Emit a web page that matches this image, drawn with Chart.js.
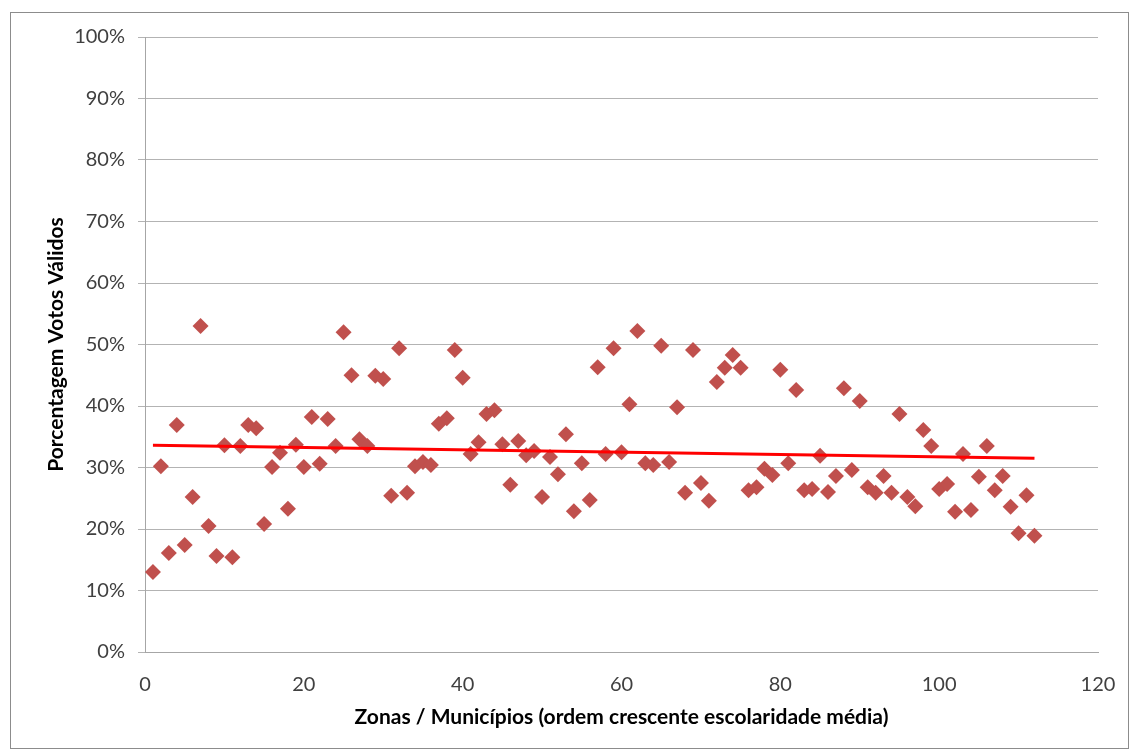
<!DOCTYPE html>
<html>
<head>
<meta charset="utf-8">
<script src="https://cdn.jsdelivr.net/npm/chart.js@4"></script>
<style>
  html, body { margin: 0; padding: 0; background: #fff; }
  #wrap { width: 1130px; height: 749px; position: relative; }
</style>
</head>
<body>
<div id="wrap"><canvas id="c" width="1130" height="749"></canvas></div>
<script>
// Vote share (%) per zone/municipality, ordered by increasing mean schooling
const votePct = [
  13.0, 30.2, 16.1, 36.9, 17.4, 25.2, 53.0, 20.5, 15.6, 33.6,
  15.4, 33.5, 36.9, 36.4, 20.8, 30.1, 32.4, 23.3, 33.7, 30.1,
  38.2, 30.6, 37.9, 33.5, 52.0, 45.0, 34.6, 33.5, 44.9, 44.4,
  25.4, 49.4, 25.9, 30.2, 30.9, 30.4, 37.1, 38.0, 49.1, 44.6,
  32.2, 34.1, 38.7, 39.3, 33.8, 27.2, 34.3, 32.0, 32.7, 25.2,
  31.7, 28.9, 35.4, 22.9, 30.7, 24.7, 46.3, 32.2, 49.4, 32.5,
  40.3, 52.2, 30.7, 30.4, 49.8, 30.9, 39.8, 25.9, 49.1, 27.5,
  24.6, 43.9, 46.2, 48.3, 46.2, 26.3, 26.8, 29.8, 28.8, 45.9,
  30.7, 42.6, 26.3, 26.5, 31.9, 26.0, 28.6, 42.9, 29.6, 40.8,
  26.8, 25.9, 28.6, 25.9, 38.7, 25.2, 23.7, 36.1, 33.5, 26.5,
  27.3, 22.8, 32.2, 23.1, 28.5, 33.5, 26.3, 28.6, 23.6, 19.3,
  25.5, 18.9
];
// Linear trend line endpoints (zone, %)
const trendX = [1, 112];
const trendY = [33.6, 31.5];

const xTicks = [0, 20, 40, 60, 80, 100, 120];
const yTicks = [0, 10, 20, 30, 40, 50, 60, 70, 80, 90, 100];

const xTitle = 'Zonas / Municípios (ordem crescente escolaridade média)';
const yTitle = 'Porcentagem Votos Válidos';

const points = votePct.map((v, i) => ({ x: i + 1, y: v }));
const trend = trendX.map((x, i) => ({ x: x, y: trendY[i] }));

const FONT = 'Lato, "Open Sans", sans-serif';

const frame = {
  id: 'frame',
  beforeDraw(chart) {
    const ctx = chart.ctx;
    ctx.save();
    ctx.fillStyle = '#ffffff';
    ctx.fillRect(0, 0, chart.width, chart.height);
    ctx.strokeStyle = '#8c8c8c';
    ctx.lineWidth = 1;
    ctx.strokeRect(10.5, 12.5, chart.width - 12, chart.height - 13);
    ctx.restore();
  }
};

new Chart(document.getElementById('c'), {
  type: 'scatter',
  data: {
    datasets: [
      {
        label: 'Votos',
        data: points,
        pointStyle: 'rectRot',
        pointRadius: 8,
        pointHoverRadius: 8,
        backgroundColor: '#c0504d',
        borderColor: '#c0504d',
        borderWidth: 0,
        order: 1
      },
      {
        label: 'Tendência',
        type: 'line',
        data: trend,
        borderColor: '#ff0000',
        borderWidth: 3,
        pointRadius: 0,
        fill: false,
        order: 0
      }
    ]
  },
  options: {
    responsive: false,
    animation: false,
    events: [],
    layout: { padding: { left: 44, right: 32, top: 37, bottom: 19 } },
    plugins: { legend: { display: false }, tooltip: { enabled: false } },
    scales: {
      x: {
        type: 'linear',
        min: 0, max: 120,
        afterBuildTicks: (axis) => { axis.ticks = xTicks.map(v => ({ value: v })); },
        afterFit: (axis) => { axis.height = 78; },
        grid: { display: false, drawTicks: true, tickLength: 7, color: '#a6a6a6' },
        border: { display: true, color: '#a6a6a6', width: 1 },
        ticks: { color: '#404040', font: { family: FONT, size: 20 }, padding: 14, maxRotation: 0 },
        title: { display: true, text: xTitle, color: '#000', font: { family: FONT, size: 21, weight: 'bold' }, padding: { top: 4, bottom: 0 } }
      },
      y: {
        type: 'linear',
        min: 0, max: 100,
        afterBuildTicks: (axis) => { axis.ticks = yTicks.map(v => ({ value: v })); },
        afterFit: (axis) => { axis.width = 101; },
        grid: { display: true, color: '#b3b3b3', lineWidth: 1, drawTicks: true, tickLength: 7 },
        border: { display: true, color: '#a6a6a6', width: 1 },
        ticks: { color: '#404040', font: { family: FONT, size: 20 }, padding: 13, callback: (v) => v + '%' },
        title: { display: true, text: yTitle, color: '#000', font: { family: FONT, size: 21, weight: 'bold' }, padding: { top: 0, bottom: 4 } }
      }
    }
  },
  plugins: [frame]
});
</script>
</body>
</html>
